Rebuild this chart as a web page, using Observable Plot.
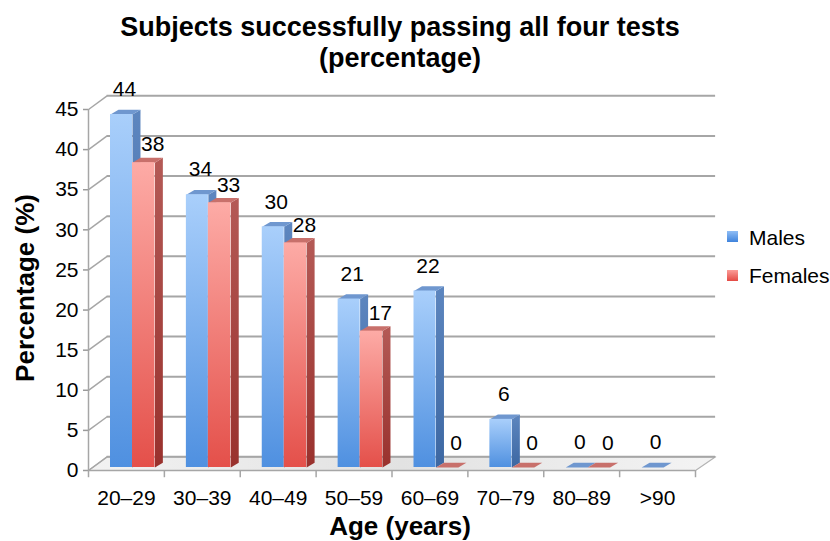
<!DOCTYPE html>
<html>
<head>
<meta charset="utf-8">
<script src="https://cdn.jsdelivr.net/npm/d3@7"></script>
<script src="https://cdn.jsdelivr.net/npm/@observablehq/plot@0.6"></script>
<style>
  html, body { margin: 0; padding: 0; background: #fff; }
  #wrap { position: relative; width: 830px; height: 541px; overflow: hidden; font-family: "Liberation Sans", Arial, sans-serif; color: #000; }
  #chart { position: absolute; left: 0; top: 0; }
  .title { position: absolute; left: 0; width: 800px; text-align: center; font-weight: bold; font-size: 27px; line-height: 31px; }
  .axtitle { position: absolute; font-weight: bold; font-size: 26px; line-height: 26px; text-align: center; white-space: nowrap; }
  .leg { position: absolute; font-size: 21px; line-height: 21px; white-space: nowrap; }
  .sw { position: absolute; width: 11px; height: 11px; }
  [aria-label^="y-axis"] line, [aria-label="y-axis tick"] path { stroke: #9a9a9a; stroke-width: 1.5px; }
</style>
</head>
<body>
<div id="wrap">
  <div id="chart"></div>
  <div class="title" style="top:12px">Subjects successfully passing all four tests<br>(percentage)</div>
  <div class="axtitle" style="left:300px; width:200px; top:513px;">Age (years)</div>
  <div class="axtitle" style="left:-85px; width:220px; top:275px; transform: rotate(-90deg);">Percentage (%)</div>
  <div class="sw" style="left:727px; top:231px; background: linear-gradient(#8fbdf5, #3f83dc);"></div>
  <div class="leg" style="left:749px; top:227px;">Males</div>
  <div class="sw" style="left:727px; top:270px; background: linear-gradient(#fb9c97, #e44a44);"></div>
  <div class="leg" style="left:749px; top:265px;">Females</div>
</div>
<script>
// ---- data ----
const categories = ["20–29", "30–39", "40–49", "50–59", "60–69", "70–79", "80–89", ">90"];
const males   = [44, 34, 30, 21, 22, 6, 0, 0];
const females = [38, 33, 28, 17, 0, 0, 0, null];
const yTicks  = [0, 5, 10, 15, 20, 25, 30, 35, 40, 45];

// ---- layout constants (in band/value units) ----
const maleOff = [0.29, 0.58];
const femaleOff = [0.58, 0.875];
const BD = {dx: 0.105, dy: 0.6};      // bar depth
const WD = {dx: 0.245, dy: 1.7};      // wall depth
const N = categories.length;

function rowsFor(values, off, series) {
  return values.map((v, i) => v == null ? null : {i, series, v, x1: i + off[0], x2: i + off[1]}).filter(d => d);
}
const mRows = rowsFor(males, maleOff, "Males");
const fRows = rowsFor(females, femaleOff, "Females");

function sidePts(rows) {
  return rows.flatMap(d => [
    {id: d.i, x: d.x2, y: 0},
    {id: d.i, x: d.x2, y: d.v},
    {id: d.i, x: d.x2 + BD.dx, y: d.v + BD.dy},
    {id: d.i, x: d.x2 + BD.dx, y: BD.dy}
  ]);
}
function topPts(rows) {
  return rows.flatMap(d => [
    {id: d.i, x: d.x1, y: d.v},
    {id: d.i, x: d.x2, y: d.v},
    {id: d.i, x: d.x2 + BD.dx, y: d.v + BD.dy},
    {id: d.i, x: d.x1 + BD.dx, y: d.v + BD.dy}
  ]);
}
const floorPts = [
  {x: 0, y: 0}, {x: N, y: 0}, {x: N + WD.dx + 0.02, y: WD.dy}, {x: WD.dx, y: WD.dy}
];

const grid = "#a6a6a6";
const barDy = -3;

const plot = Plot.plot({
  width: 830,
  height: 541,
  marginLeft: 88,
  marginRight: 135,
  marginTop: 109,
  marginBottom: 71,
  style: {fontFamily: "Liberation Sans, Arial, sans-serif", fontSize: "21px", background: "transparent", color: "#000", overflow: "visible"},
  x: {domain: [0, N], ticks: d3.range(N).map(i => i + 0.5), tickFormat: d => categories[Math.floor(d)], tickSize: 0, tickPadding: 20, label: null},
  y: {domain: [0, 45], ticks: yTicks, tickSize: 5, tickPadding: 5, label: null},
  marks: [
    // floor
    Plot.line(floorPts, {x: "x", y: "y", curve: "linear-closed", fill: "url(#floorG)", stroke: "#b4b4b4", strokeWidth: 1.2}),
    // back wall gridlines
    Plot.ruleY(yTicks, {y: d => d + WD.dy, x1: WD.dx, x2: N + WD.dx + 0.02, stroke: grid, strokeWidth: 2}),
    // side wall diagonals
    Plot.link(yTicks, {x1: 0, y1: d => d, x2: WD.dx, y2: d => d + WD.dy, stroke: grid, strokeWidth: 1.5}),
    // left axis line and front floor edge
    Plot.ruleX([0], {y1: 0, y2: 45, stroke: grid, strokeWidth: 1.5}),
    Plot.ruleY([0], {x1: 0, x2: N, stroke: grid, strokeWidth: 1.5}),
    // x tick marks at band boundaries
    Plot.ruleX(d3.range(N + 1), {x: d => d, y1: 0, y2: -0.9, stroke: grid, strokeWidth: 1.5}),
    // males
    Plot.line(sidePts(mRows), {x: "x", y: "y", z: "id", curve: "linear-closed", fill: "url(#sideM)", stroke: null, dy: barDy}),
    Plot.line(topPts(mRows), {x: "x", y: "y", z: "id", curve: "linear-closed", fill: "#6f97cf", stroke: null, dy: barDy}),
    Plot.rect(mRows, {x1: "x1", x2: "x2", y1: 0, y2: "v", fill: "url(#frontM)", dy: barDy}),
    // females
    Plot.line(sidePts(fRows), {x: "x", y: "y", z: "id", curve: "linear-closed", fill: "url(#sideF)", stroke: null, dy: barDy}),
    Plot.line(topPts(fRows), {x: "x", y: "y", z: "id", curve: "linear-closed", fill: "#c8706b", stroke: null, dy: barDy}),
    Plot.rect(fRows, {x1: "x1", x2: "x2", y1: 0, y2: "v", fill: "url(#frontF)", dy: barDy}),
    // value labels
    Plot.text(mRows, {x: d => (d.x1 + d.x2) / 2, y: "v", text: d => String(d.v), dx: 3, dy: -28, fontSize: 21, fill: "#000"}),
    Plot.text(fRows.filter(d => d.v > 0), {x: d => (d.x1 + d.x2) / 2, y: "v", text: d => String(d.v), dx: 9, dy: -21, fontSize: 21, fill: "#000"}),
    Plot.text(fRows.filter(d => d.v === 0), {x: d => (d.x1 + d.x2) / 2, y: "v", text: d => String(d.v), dx: 9, dy: -27, fontSize: 21, fill: "#000"})
  ]
});

const svg = plot.tagName.toLowerCase() === "svg" ? plot : plot.querySelector("svg");
const defs = d3.select(svg).insert("defs", ":first-child");
function vgrad(id, stops) {
  const g = defs.append("linearGradient").attr("id", id).attr("x1", 0).attr("y1", 0).attr("x2", 0).attr("y2", 1);
  stops.forEach(([o, c]) => g.append("stop").attr("offset", o).attr("stop-color", c));
}
vgrad("frontM", [[0, "#a9cffb"], [1, "#4f90e0"]]);
vgrad("frontF", [[0, "#fdaba6"], [1, "#e4504a"]]);
vgrad("sideM", [[0, "#5d86bf"], [1, "#3c67a2"]]);
vgrad("sideF", [[0, "#b45a56"], [1, "#99312d"]]);
const fg = defs.append("linearGradient").attr("id", "floorG").attr("x1", 0).attr("y1", 0).attr("x2", 1).attr("y2", 0);
[[0, "#f2f2f2"], [0.5, "#e2e2e2"], [1, "#f4f4f4"]].forEach(([o, c]) => fg.append("stop").attr("offset", o).attr("stop-color", c));

document.getElementById("chart").appendChild(plot);
</script>
</body>
</html>
